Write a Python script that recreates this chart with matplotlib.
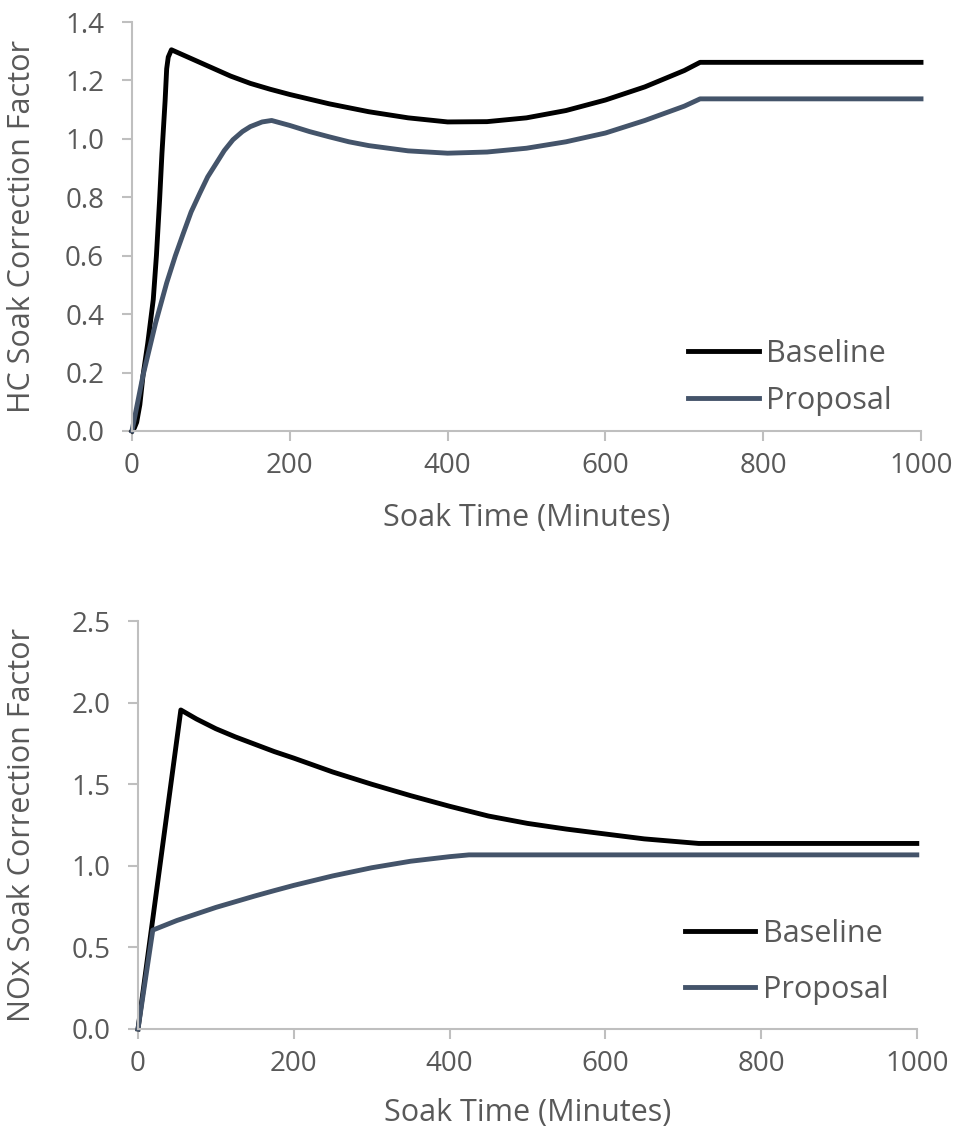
import matplotlib
matplotlib.use("Agg")
import matplotlib.pyplot as plt

plt.rcParams['font.family'] = ['Open Sans', 'DejaVu Sans']

# HC soak correction factor
hc_base_x = [0, 3, 6, 10, 14, 20, 27, 31, 35, 38, 42, 44, 46, 50, 75, 100, 125, 150, 175, 200,
             250, 300, 350, 400, 450, 500, 550, 600, 650, 700, 720, 1000]
hc_base_y = [0, 0.01, 0.03, 0.09, 0.19, 0.30, 0.45, 0.60, 0.79, 0.95, 1.13, 1.24, 1.28, 1.305, 1.275,
             1.245, 1.215, 1.19, 1.17, 1.152, 1.12, 1.093, 1.072, 1.058, 1.059, 1.072, 1.097, 1.133,
             1.178, 1.234, 1.262, 1.262]
hc_prop_x = [0, 14, 30, 44, 55, 65, 75, 86, 96, 107, 117, 128, 140, 150, 165, 177, 200, 225, 250,
             275, 300, 350, 400, 450, 500, 550, 600, 650, 700, 720, 1000]
hc_prop_y = [0, 0.19, 0.37, 0.507, 0.60, 0.676, 0.75, 0.814, 0.87, 0.917, 0.96, 0.997, 1.025, 1.042,
             1.058, 1.063, 1.046, 1.025, 1.007, 0.99, 0.977, 0.959, 0.951, 0.955, 0.968, 0.99, 1.02,
             1.063, 1.112, 1.137, 1.137]

# NOx soak correction factor
nox_base_x = [0, 55, 75, 100, 125, 150, 175, 200, 250, 300, 350, 400, 450, 500, 550, 600, 650, 700, 720, 1000]
nox_base_y = [0, 1.955, 1.90, 1.84, 1.79, 1.745, 1.70, 1.66, 1.575, 1.50, 1.43, 1.365, 1.305, 1.26,
              1.225, 1.195, 1.165, 1.145, 1.137, 1.137]
nox_prop_x = [0, 19, 50, 75, 100, 125, 150, 175, 200, 250, 300, 350, 400, 425, 1000]
nox_prop_y = [0, 0.606, 0.665, 0.705, 0.745, 0.78, 0.815, 0.848, 0.88, 0.938, 0.988, 1.028, 1.056,
              1.067, 1.067]

x_ticks = [0, 200, 400, 600, 800, 1000]
gray = '#595959'
spine = '#BFBFBF'
base_color = 'black'
prop_color = '#44546A'
fs = 20
lfs = 22

fig = plt.figure(figsize=(9.59, 11.3), dpi=100)
ax1 = fig.add_axes([0.1376, 0.6186, 0.8228, 0.3619])
ax2 = fig.add_axes([0.1439, 0.0894, 0.8121, 0.361])


def style(ax, ylabel, ymax, ystep, ylab_x, xlab_y, leg_xy, spacing):
    ax.set_xlim(0, 1000)
    ax.set_ylim(0, ymax)
    ax.set_xticks(x_ticks)
    yt = [i * ystep for i in range(int(round(ymax / ystep)) + 1)]
    ax.set_yticks(yt)
    ax.set_yticklabels(['{:.1f}'.format(v) for v in yt])
    for s in ['top', 'right']:
        ax.spines[s].set_visible(False)
    for s in ['left', 'bottom']:
        ax.spines[s].set_color(spine)
        ax.spines[s].set_linewidth(1.5)
    ax.tick_params(colors=spine, labelcolor=gray, labelsize=fs, length=7, width=1.5)
    ax.tick_params(axis='y', pad=13)
    ax.tick_params(axis='x', pad=8)
    ax.set_xlabel('Soak Time (Minutes)', color=gray, fontsize=lfs)
    ax.xaxis.set_label_coords(0.5, xlab_y)
    ax.set_ylabel(ylabel, color=gray, fontsize=lfs)
    ax.yaxis.set_label_coords(ylab_x, 0.5)
    leg = ax.legend(loc='upper left', bbox_to_anchor=leg_xy, frameon=False, borderpad=0,
                    borderaxespad=0, fontsize=lfs, handlelength=2.3, handletextpad=0.25,
                    labelspacing=spacing)
    for t in leg.get_texts():
        t.set_color(gray)


ax1.plot(hc_base_x, hc_base_y, color=base_color, lw=3.5, label='Baseline', clip_on=False)
ax1.plot(hc_prop_x, hc_prop_y, color=prop_color, lw=3.5, label='Proposal', clip_on=False)
style(ax1, 'HC Soak Correction Factor', 1.4, 0.2, -0.12, -0.176, (0.705, 0.225), 0.55)

ax2.plot(nox_base_x, nox_base_y, color=base_color, lw=3.5, label='Baseline', clip_on=False)
ax2.plot(nox_prop_x, nox_prop_y, color=prop_color, lw=3.5, label='Proposal', clip_on=False)
style(ax2, 'NOx Soak Correction Factor', 2.5, 0.5, -0.13, -0.169, (0.702, 0.27), 0.85)

fig.savefig('out.png', dpi=100)
